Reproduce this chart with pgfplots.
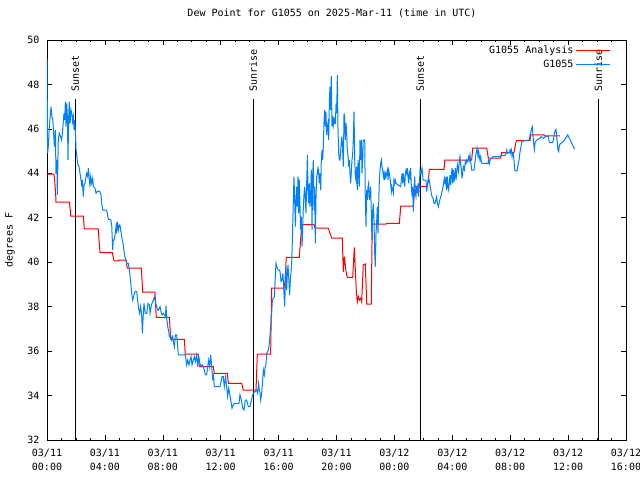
\documentclass[border=0pt]{standalone}
\usepackage{fontspec}
\setmainfont{DejaVu Sans Mono}
\usepackage{pgfplots}
\pgfplotsset{compat=1.18}
\definecolor{gblue}{RGB}{0,128,255}
\begin{document}
\begin{tikzpicture}
\begin{axis}[
  name=ax,
  at={(0,0)}, anchor=south west,
  width=579pt, height=400pt, scale only axis,
  xmin=0, xmax=40, ymin=32, ymax=50,
  axis line style={line width=0.8pt},
  xtick={0,4,...,40},
  minor x tick num=3,
  xticklabels={{03/11\\00:00},{03/11\\04:00},{03/11\\08:00},{03/11\\12:00},{03/11\\16:00},{03/11\\20:00},{03/12\\00:00},{03/12\\04:00},{03/12\\08:00},{03/12\\12:00},{03/12\\16:00}},
  xticklabel style={align=center, font=\fontsize{10}{14}\selectfont, yshift=-6pt},
  ytick={32,34,...,50},
  yticklabel style={font=\fontsize{10}{12}\selectfont, xshift=-4pt},
  /pgf/number format/assume math mode=true,
  tick align=inside,
  major tick length=5pt, minor tick length=2.5pt,
  tick style={black, line width=0.6pt},
  ylabel={degrees F},
  ylabel style={at={(axis description cs:-0.0639,0.5)}, anchor=center, font=\fontsize{10}{12}\selectfont},
  title={Dew Point for G1055 on 2025-Mar-11 (time in UTC)},
  title style={at={(axis description cs:0.4922,1.0525)}, anchor=center, font=\fontsize{10}{12}\selectfont},
  legend style={at={(axis description cs:0.9735,0.99)}, anchor=north east, draw=none, fill=none, inner sep=0pt, font=\fontsize{10}{12}\selectfont, row sep=1pt},
  legend cell align=right,
  legend plot pos=right,
  legend image code/.code={\path (0pt,0pt) -- (34pt,0pt);\draw[#1] (6pt,0pt) -- (34pt,0pt);},
]
% sunset / sunrise markers
\addplot[black, line width=0.8pt, forget plot] coordinates {(1.955,32) (1.955,47.35)};
\addplot[black, line width=0.8pt, forget plot] coordinates {(14.25,32) (14.25,47.35)};
\addplot[black, line width=0.8pt, forget plot] coordinates {(25.79,32) (25.79,47.35)};
\addplot[black, line width=0.8pt, forget plot] coordinates {(38.09,32) (38.09,47.35)};
\node[rotate=90, anchor=west, inner sep=0pt, font=\fontsize{10}{12}\selectfont] at (axis cs:1.955,47.66) {Sunset};
\node[rotate=90, anchor=west, inner sep=0pt, font=\fontsize{10}{12}\selectfont] at (axis cs:14.25,47.66) {Sunrise};
\node[rotate=90, anchor=west, inner sep=0pt, font=\fontsize{10}{12}\selectfont] at (axis cs:25.79,47.66) {Sunset};
\node[rotate=90, anchor=west, inner sep=0pt, font=\fontsize{10}{12}\selectfont] at (axis cs:38.09,47.66) {Sunrise};

% G1055 Analysis
\addplot[red, line width=1pt] coordinates {
(0.00,43.97) (0.48,43.97) (0.53,43.70) (0.60,43.06) (0.62,42.70) (1.54,42.70) (1.61,42.35) (1.64,42.08)
(2.51,42.08) (2.58,41.50) (3.54,41.50) (3.66,40.43) (4.51,40.43) (4.63,40.06) (4.97,40.06) (4.97,40.10)
(5.46,40.10) (5.55,39.73) (6.52,39.73) (6.61,38.66) (7.46,38.66) (7.55,37.52) (8.45,37.52) (8.55,36.53)
(9.49,36.53) (9.55,35.86) (10.45,35.86) (10.52,35.30) (11.49,35.30) (11.56,35.00) (12.46,35.00) (12.53,34.55)
(13.45,34.55) (13.56,34.25) (14.44,34.25) (14.53,35.86) (15.45,35.86) (15.52,38.83) (16.37,38.83) (16.44,39.12)
(16.53,40.22) (17.43,40.22) (17.60,41.69) (18.45,41.69) (18.52,41.53) (19.43,41.53) (19.67,41.08) (20.40,41.08)
(20.47,39.57) (20.54,40.25) (20.66,39.57) (20.75,39.32) (21.12,39.32) (21.23,40.67) (21.37,38.67) (21.44,38.22)
(21.51,38.45) (21.58,38.30) (21.67,38.38) (21.74,38.22) (21.85,39.88) (21.99,39.92) (22.09,38.11) (22.40,38.11)
(22.47,41.71) (23.42,41.71) (23.47,41.75) (24.34,41.75) (24.44,42.53) (25.31,42.53) (25.42,43.41) (26.23,43.41)
(26.34,43.62) (26.41,44.18) (27.43,44.18) (27.48,44.60) (29.34,44.60) (29.41,45.13) (30.38,45.13) (30.49,44.68)
(31.34,44.68) (31.41,44.93) (32.26,44.93) (32.42,45.47) (33.37,45.47) (33.42,45.73) (34.34,45.73) (34.34,45.68)
(35.44,45.68)
};
\addlegendentry{G1055 Analysis}

% G1055 observations
\addplot[gblue, line width=1pt] coordinates {
(0.00,49.13) (0.04,44.90) (0.09,45.20) (0.16,46.10) (0.28,47.00) (0.35,46.48) (0.39,46.48) (0.44,46.03)
(0.51,45.20) (0.58,45.95) (0.62,44.00) (0.67,44.00) (0.70,44.60) (0.71,43.03) (0.78,45.50) (0.85,45.80)
(0.94,45.65) (1.01,45.50) (1.08,45.95) (1.17,46.70) (1.22,46.40) (1.27,47.23) (1.31,46.10) (1.36,47.15)
(1.41,46.55) (1.45,44.60) (1.50,46.55) (1.54,47.23) (1.59,46.25) (1.66,46.85) (1.73,46.63) (1.77,46.33)
(1.82,46.55) (1.87,45.95) (1.91,46.40) (1.96,45.95) (2.00,45.13) (2.10,44.53) (2.14,44.38) (2.21,44.30)
(2.28,44.00) (2.35,43.70) (2.40,43.40) (2.44,43.70) (2.51,42.95) (2.56,43.48) (2.63,43.55) (2.69,43.85)
(2.74,44.00) (2.81,43.85) (2.86,44.23) (2.92,43.78) (2.97,43.40) (3.02,43.85) (3.09,43.55) (3.16,43.78)
(3.20,43.40) (3.32,43.33) (3.39,43.10) (3.48,43.18) (3.62,43.20) (3.73,43.03) (3.78,42.65) (3.85,42.35)
(4.12,42.35) (4.24,41.93) (4.40,41.93) (4.47,41.68) (4.54,40.55) (4.58,41.00) (4.63,41.00) (4.70,41.23)
(4.77,41.60) (4.81,41.30) (4.86,41.83) (4.93,41.45) (5.00,41.68) (5.04,41.68) (5.11,41.38) (5.18,41.08)
(5.27,40.78) (5.34,40.40) (5.44,40.10) (5.50,39.95) (5.62,39.95) (5.69,39.65) (5.78,39.13) (5.85,38.60)
(5.92,38.30) (6.01,38.53) (6.08,38.68) (6.20,38.68) (6.26,38.30) (6.33,37.93) (6.40,37.70) (6.47,38.00)
(6.54,37.63) (6.59,36.80) (6.63,37.40) (6.70,38.15) (6.79,37.70) (6.89,37.70) (6.98,38.15) (7.07,38.08)
(7.12,37.70) (7.19,38.00) (7.25,38.15) (7.35,38.30) (7.42,38.45) (7.48,38.23) (7.58,38.00) (7.65,37.85)
(7.71,37.85) (7.81,38.00) (7.88,37.78) (7.95,37.63) (8.04,37.70) (8.11,37.63) (8.18,37.55) (8.22,38.03)
(8.27,37.48) (8.34,37.10) (8.41,36.88) (8.45,36.65) (8.54,36.73) (8.61,36.50) (8.68,36.65) (8.73,36.43)
(8.80,36.20) (8.87,36.73) (8.96,36.73) (9.03,36.20) (9.07,35.83) (9.56,35.83) (9.65,35.38) (9.72,35.60)
(9.81,35.38) (9.88,35.60) (9.95,35.75) (10.02,35.38) (10.11,35.60) (10.18,35.75) (10.25,35.53) (10.34,35.83)
(10.41,35.30) (10.48,35.75) (10.57,35.45) (10.64,35.30) (10.73,35.38) (10.80,35.30) (10.87,35.15) (10.94,34.93)
(11.03,34.93) (11.10,35.30) (11.17,35.60) (11.24,35.30) (11.31,35.83) (11.38,35.30) (11.45,34.70) (11.49,35.00)
(11.56,34.40) (11.95,34.40) (12.09,34.85) (12.18,34.85) (12.25,34.40) (12.34,34.85) (12.41,34.40) (12.48,33.95)
(12.55,34.33) (12.62,34.10) (12.69,33.80) (12.78,33.43) (12.87,33.58) (12.97,33.65) (13.26,33.65) (13.33,34.03)
(13.43,33.80) (13.52,33.43) (13.61,33.35) (13.70,33.80) (13.79,33.80) (13.91,33.50) (14.02,33.50) (14.12,33.80)
(14.21,34.03) (14.25,34.10) (14.37,34.18) (14.48,34.25) (14.55,34.10) (14.62,34.55) (14.67,34.25) (14.72,34.10)
(14.76,33.80) (14.83,34.10) (14.88,34.55) (14.95,35.15) (15.01,34.93) (15.06,35.23) (15.13,35.45) (15.18,35.90)
(15.24,35.98) (15.29,36.05) (15.36,36.35) (15.41,36.73) (15.45,37.10) (15.52,37.70) (15.57,38.30) (15.64,38.38)
(15.71,38.45) (15.75,39.05) (15.82,39.95) (15.87,39.80) (15.91,39.73) (15.98,39.65) (16.05,39.65) (16.10,39.58)
(16.17,39.13) (16.24,39.20) (16.30,39.50) (16.37,38.60) (16.42,38.00) (16.47,39.05) (16.51,39.80) (16.56,38.75)
(16.60,39.43) (16.65,39.88) (16.72,39.05) (16.76,38.53) (16.81,39.20) (16.86,39.58) (16.90,39.88) (16.95,41.00)
(17.02,42.80) (17.06,43.85) (17.11,42.80) (17.16,41.60) (17.20,42.80) (17.25,43.40) (17.29,42.50) (17.34,43.85)
(17.39,42.20) (17.43,43.70) (17.48,42.50) (17.52,41.45) (17.57,42.05) (17.62,40.70) (17.66,41.45) (17.71,42.50)
(17.76,43.10) (17.80,43.40) (17.85,42.80) (17.89,42.20) (17.94,43.55) (17.99,44.83) (18.03,43.25) (18.08,42.65)
(18.12,43.55) (18.17,42.50) (18.22,43.10) (18.26,44.15) (18.31,41.45) (18.35,43.85) (18.40,44.60) (18.45,42.35)
(18.49,43.40) (18.54,40.85) (18.58,42.80) (18.63,43.85) (18.68,44.00) (18.72,44.30) (18.77,44.00) (18.81,43.55)
(18.86,44.00) (18.91,43.25) (18.95,44.60) (19.00,45.05) (19.04,44.60) (19.09,45.20) (19.14,46.40) (19.18,46.85)
(19.23,46.10) (19.27,46.78) (19.32,45.73) (19.37,46.10) (19.41,46.25) (19.46,45.50) (19.51,47.30) (19.55,47.90)
(19.60,46.85) (19.64,48.38) (19.69,46.10) (19.74,46.40) (19.78,46.18) (19.83,46.55) (19.87,46.25) (19.92,46.25)
(19.97,47.15) (20.01,46.70) (20.06,48.43) (20.10,46.10) (20.15,44.90) (20.20,44.60) (20.24,44.60) (20.29,45.05)
(20.36,45.65) (20.40,45.43) (20.47,44.30) (20.52,46.70) (20.56,46.55) (20.61,45.50) (20.66,46.25) (20.70,45.80)
(20.75,45.05) (20.80,44.75) (20.84,44.30) (20.89,44.60) (20.93,44.00) (20.98,43.55) (21.03,44.15) (21.07,44.60)
(21.12,44.90) (21.16,45.50) (21.21,46.78) (21.26,44.60) (21.30,43.85) (21.35,43.70) (21.39,44.30) (21.44,43.25)
(21.49,44.60) (21.53,44.15) (21.58,43.40) (21.62,45.50) (21.67,44.60) (21.72,45.50) (21.76,44.00) (21.81,44.60)
(21.85,45.50) (21.95,45.50) (21.99,42.80) (22.04,41.60) (22.08,43.25) (22.13,42.80) (22.18,43.40) (22.22,43.55)
(22.27,42.80) (22.31,43.10) (22.36,43.40) (22.41,42.05) (22.45,41.00) (22.50,42.35) (22.55,42.65) (22.59,41.90)
(22.64,40.40) (22.68,39.80) (22.73,41.30) (22.78,41.90) (22.82,42.50) (22.87,41.30) (22.91,42.50) (22.96,43.70)
(23.01,44.15) (23.05,44.45) (23.10,44.60) (23.14,44.30) (23.19,44.15) (23.24,43.85) (23.28,44.00) (23.33,43.70)
(23.37,44.00) (23.42,43.85) (23.51,44.15) (23.56,43.70) (23.60,44.15) (23.65,44.00) (23.70,43.78) (23.74,43.55)
(23.79,43.18) (23.83,43.40) (23.93,43.10) (23.97,43.70) (24.02,43.55) (24.06,43.70) (24.11,43.55) (24.43,43.40)
(24.48,43.70) (24.53,44.00) (24.57,43.55) (24.62,44.00) (24.66,43.70) (24.71,43.40) (24.76,44.00) (24.80,44.15)
(24.85,44.00) (24.89,44.23) (24.94,43.85) (24.99,43.55) (25.03,44.00) (25.08,43.85) (25.12,44.23) (25.17,43.40)
(25.22,42.95) (25.26,43.40) (25.31,42.28) (25.35,43.25) (25.40,43.85) (25.45,43.10) (25.49,42.95) (25.54,43.40)
(25.58,43.10) (25.63,43.55) (25.68,42.95) (25.72,43.40) (25.77,44.15) (25.84,44.00) (25.91,44.23) (25.98,43.70)
(26.18,43.70) (26.23,43.18) (26.30,43.55) (26.35,43.78) (26.41,43.70) (26.46,43.48) (26.53,43.18) (26.60,42.95)
(26.67,42.88) (26.74,42.65) (26.81,42.65) (26.87,42.80) (26.92,42.95) (26.97,42.65) (27.04,42.50) (27.11,42.73)
(27.17,42.88) (27.24,43.03) (27.31,43.25) (27.38,43.48) (27.45,43.78) (27.50,43.55) (27.57,43.85) (27.61,43.25)
(27.66,43.85) (27.70,43.40) (27.75,43.25) (27.80,43.63) (27.84,43.93) (27.89,43.48) (27.93,43.78) (27.98,44.23)
(28.03,43.55) (28.07,44.15) (28.12,43.63) (28.16,43.85) (28.21,44.23) (28.26,43.70) (28.30,44.08) (28.35,44.38)
(28.42,44.08) (28.49,44.60) (28.53,44.75) (28.58,44.38) (28.62,44.23) (28.67,43.78) (28.72,44.08) (28.76,44.30)
(28.83,44.15) (28.90,44.53) (28.95,44.45) (28.99,44.60) (29.06,44.53) (29.13,44.75) (29.18,44.60) (29.22,44.83)
(29.27,44.53) (29.34,44.15) (29.50,44.15) (29.57,44.53) (29.64,44.90) (29.71,45.13) (29.78,44.75) (29.82,44.98)
(29.87,44.75) (29.91,44.60) (29.96,44.75) (30.01,44.48) (30.10,44.45) (30.47,44.45) (30.51,44.63) (30.56,44.45)
(30.61,44.60) (30.72,44.68) (30.79,44.75) (31.30,44.75) (31.39,44.80) (31.64,44.80) (31.71,44.90) (31.76,45.05)
(31.80,44.90) (31.94,44.93) (31.99,45.05) (32.03,44.93) (32.08,45.05) (32.13,44.75) (32.17,44.93) (32.22,44.90)
(32.26,44.60) (32.31,44.15) (32.45,44.10) (32.49,44.15) (32.54,44.38) (32.61,44.60) (32.68,44.98) (32.75,45.20)
(32.79,45.40) (32.95,45.47) (33.32,45.50) (33.37,45.73) (33.44,45.88) (33.48,46.03) (33.53,46.10) (33.58,45.65)
(33.62,45.35) (33.67,45.08) (33.71,45.35) (33.76,45.43) (33.83,45.50) (34.06,45.58) (34.13,45.65) (34.29,45.58)
(34.47,45.65) (34.61,45.68) (34.66,45.58) (34.70,45.38) (34.93,45.38) (34.98,45.50) (35.03,45.73) (35.07,45.83)
(35.12,45.95) (35.16,45.98) (35.21,45.65) (35.26,45.35) (35.30,45.05) (35.35,44.98) (35.39,45.23) (35.44,45.32)
(35.67,45.43) (35.90,45.65) (35.97,45.73) (36.13,45.53) (36.36,45.20) (36.45,45.08)
};
\addlegendentry{G1055}
\end{axis}
\pgfresetboundingbox
\path (ax.south west) ++(-47pt,-40pt) rectangle ++(640pt,480pt);
\end{tikzpicture}
\end{document}
